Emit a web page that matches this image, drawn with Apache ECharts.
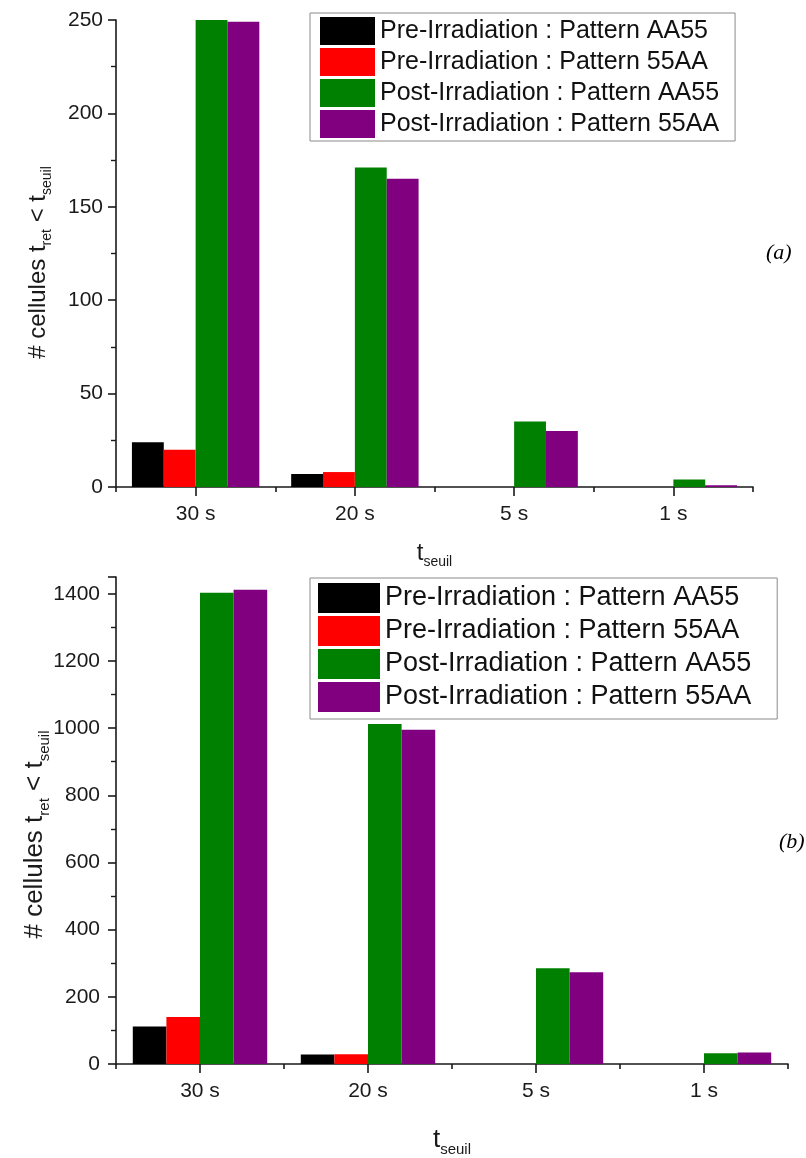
<!DOCTYPE html>
<html>
<head>
<meta charset="utf-8">
<script src="https://cdn.jsdelivr.net/npm/echarts@6/dist/echarts.min.js"></script>
<style>
html,body{margin:0;padding:0;background:#fff;}
#c{width:806px;height:1158px;}
</style>
</head>
<body>
<div id="c"></div>
<script>
const categories = ['30 s', '20 s', '5 s', '1 s'];
const seriesNames = [
  'Pre-Irradiation : Pattern AA55',
  'Pre-Irradiation : Pattern 55AA',
  'Post-Irradiation : Pattern AA55',
  'Post-Irradiation : Pattern 55AA'
];
const seriesColors = ['#000000', '#ff0000', '#008000', '#800080'];

// (a) upper chart
const preAA55_a  = [24, 7, 0, 0];
const pre55AA_a  = [20, 8, 0, 0];
const postAA55_a = [250, 171, 35, 4];
const post55AA_a = [249, 165, 30, 1];

// (b) lower chart
const preAA55_b  = [112, 28, 0, 0];
const pre55AA_b  = [140, 29, 0, 0];
const postAA55_b = [1403, 1012, 285, 32];
const post55AA_b = [1412, 995, 273, 34];

const yTicksA = { min: 0, max: 250, interval: 50 };
const yTicksB = { min: 0, max: 1450, interval: 200 };

const dataA = [preAA55_a, pre55AA_a, postAA55_a, post55AA_a];
const dataB = [preAA55_b, pre55AA_b, postAA55_b, post55AA_b];

const FONT = 'Liberation Sans, Arial, sans-serif';
const AX = '#1a1a1a';

function richName(size, sub, pad) {
  return {
    fontFamily: FONT, color: AX,
    padding: pad || 0,
    rich: {
      m: { fontSize: size, fontFamily: FONT, color: AX },
      s: { fontSize: sub, fontFamily: FONT, color: AX, padding: [Math.round(size * 0.75), 0, 0, 0] }
    }
  };
}

function makeX(gridIndex, labelSize, nameGap, nameSize, subSize) {
  return [
    {
      type: 'category', gridIndex: gridIndex, data: categories, position: 'bottom',
      axisLine: { show: true, onZero: false, lineStyle: { color: AX, width: 1.6 } },
      axisTick: { show: true, alignWithLabel: true, length: 9, lineStyle: { color: AX, width: 1.6 } },
      axisLabel: { fontSize: labelSize, fontFamily: FONT, color: AX, margin: 17 },
      splitLine: { show: false },
      name: '{m|t}{s|seuil}', nameLocation: 'middle', nameGap: nameGap,
      nameMoveOverlap: false,
      nameTextStyle: richName(nameSize, subSize)
    },
    {
      type: 'category', gridIndex: gridIndex, data: categories, position: 'bottom',
      axisLine: { show: false },
      axisTick: { show: true, length: 5, lineStyle: { color: AX, width: 1.6 } },
      axisLabel: { show: false },
      splitLine: { show: false }
    }
  ];
}

function makeY(gridIndex, ticks, labelSize, labelMargin, nameGap, nameSize, subSize, namePad) {
  return {
    type: 'value', gridIndex: gridIndex,
    min: ticks.min, max: ticks.max, interval: ticks.interval,
    axisLine: { show: true, lineStyle: { color: AX, width: 1.6 } },
    axisTick: { show: true, length: 8, lineStyle: { color: AX, width: 1.6 } },
    minorTick: { show: true, splitNumber: 2, length: 5, lineStyle: { color: AX, width: 1.4 } },
    axisLabel: {
      fontSize: labelSize, fontFamily: FONT, color: AX, margin: labelMargin,
      showMaxLabel: ticks.max % ticks.interval === 0,
      formatter: function (v) { return String(v); }
    },
    splitLine: { show: false },
    name: '{m|# cellules t}{s|ret}{m| < t}{s|seuil}',
    nameLocation: 'middle', nameRotate: 90, nameGap: nameGap,
    nameMoveOverlap: false,
    nameTextStyle: richName(nameSize, subSize, namePad)
  };
}

const series = [];
seriesNames.forEach(function (n, i) {
  series.push({
    name: n, type: 'bar', xAxisIndex: 0, yAxisIndex: 0,
    data: dataA[i], barGap: '0%', barCategoryGap: '20%',
    itemStyle: { color: seriesColors[i] }, emphasis: { disabled: true }
  });
});
seriesNames.forEach(function (n, i) {
  series.push({
    name: n, type: 'bar', xAxisIndex: 2, yAxisIndex: 1,
    data: dataB[i], barGap: '0%', barCategoryGap: '20%',
    itemStyle: { color: seriesColors[i] }, emphasis: { disabled: true }
  });
});

const chart = echarts.init(document.getElementById('c'), null, { renderer: 'canvas' });
chart.setOption({
  animation: false,
  backgroundColor: '#ffffff',
  grid: [
    { left: 116, width: 637, top: 20, height: 467 },
    { left: 116, width: 672, top: 577, height: 492.5 }
  ],
  xAxis: makeX(0, 21, 50, 24, 14).concat(makeX(1, 21, 58, 26, 15)),
  yAxis: [
    makeY(0, yTicksA, 21, 13, 62, 24, 14, [0, 18, 0, 0]),
    makeY(1, yTicksB, 21, 16, 64, 26, 15, [0, 28, 0, 0])
  ],
  legend: [
    {
      data: seriesNames, orient: 'vertical', left: 310, top: 13,
      itemWidth: 55, itemHeight: 28, itemGap: 3,
      padding: [4, 16, 3, 10],
      borderColor: '#8a8a8a', borderWidth: 1,
      icon: 'rect', selectedMode: false,
      textStyle: { fontSize: 25, fontFamily: FONT, color: '#111' }
    },
    {
      data: seriesNames, orient: 'vertical', left: 310, top: 578,
      itemWidth: 62, itemHeight: 30, itemGap: 3,
      padding: [5, 26, 7, 8],
      borderColor: '#8a8a8a', borderWidth: 1,
      icon: 'rect', selectedMode: false,
      textStyle: { fontSize: 27, fontFamily: FONT, color: '#111' }
    }
  ],
  title: [
    { text: '(a)', left: 766, top: 242, textStyle: { fontFamily: 'Liberation Serif, Times New Roman, serif', fontStyle: 'italic', fontWeight: 'normal', fontSize: 22, color: '#000' }, padding: 0 },
    { text: '(b)', left: 779, top: 831, textStyle: { fontFamily: 'Liberation Serif, Times New Roman, serif', fontStyle: 'italic', fontWeight: 'normal', fontSize: 22, color: '#000' }, padding: 0 }
  ],
  series: series
});
</script>
</body>
</html>
